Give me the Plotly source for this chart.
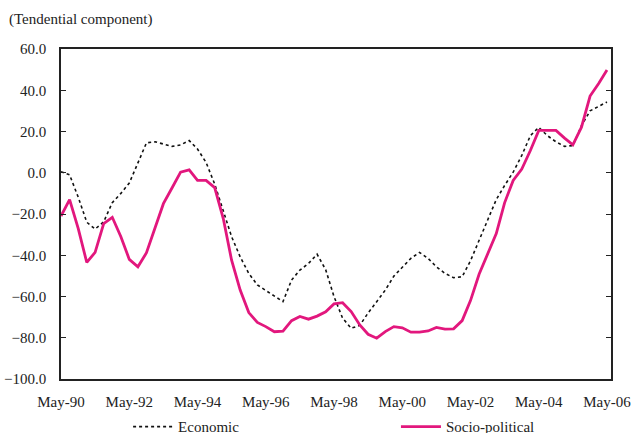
import pandas as pd
import plotly.graph_objects as go

# Quarterly observations, May-1990 .. May-2006
dates = pd.date_range("1990-05-01", periods=65, freq="3MS")

economic = [
    0.5, -1.0, -11.8, -24.0, -27.3, -23.8, -14.5, -10.0, -5.0, 5.0,
    14.5, 15.0, 13.8, 12.8, 13.5, 15.6, 11.5, 5.0, -5.5, -19.0,
    -31.0, -40.8, -48.8, -54.4, -57.2, -60.0, -62.5, -52.0, -47.2, -44.0,
    -39.5, -47.0, -60.0, -70.5, -75.4, -74.0, -68.0, -62.5, -56.9, -50.1,
    -45.6, -41.5, -38.6, -41.5, -45.6, -48.8, -50.9, -50.4, -42.7, -32.7,
    -23.4, -13.0, -6.2, 0.3, 8.4, 18.0, 22.0, 18.0, 15.0, 12.8,
    13.2, 22.8, 30.0, 32.4, 34.3,
]

socio_political = [
    -21.0, -13.0, -27.0, -43.5, -38.6, -24.6, -21.6, -31.0, -42.0, -45.6,
    -38.8, -27.0, -15.0, -7.4, 0.3, 1.4, -3.7, -3.7, -7.2, -22.2,
    -42.4, -56.9, -67.8, -72.6, -74.6, -77.1, -76.8, -71.7, -69.7, -71.0,
    -69.5, -67.4, -63.6, -63.0, -67.3, -73.8, -78.3, -80.2, -77.0, -74.6,
    -75.2, -77.3, -77.3, -76.7, -75.0, -75.8, -75.7, -71.7, -62.0, -49.2,
    -39.5, -29.5, -14.6, -3.7, 1.8, 10.8, 20.5, 20.5, 20.5, 16.8,
    13.5, 22.1, 37.2, 43.3, 49.8,
]

tick_dates = pd.date_range("1990-05-01", "2006-05-01", freq="24MS")
tick_labels = ["May-90", "May-92", "May-94", "May-96", "May-98",
               "May-00", "May-02", "May-04", "May-06"]

FONT = "Times New Roman, Liberation Serif, DejaVu Serif, serif"
TXT = "#222222"
x_range = ["1990-05-01", "2006-06-13"]

fig = go.Figure()
fig.add_trace(go.Scatter(
    x=dates, y=economic, mode="lines", name="Economic", legend="legend",
    line=dict(color="#111111", width=1.6, dash="dot"),
))
fig.add_trace(go.Scatter(
    x=dates, y=socio_political, mode="lines", name="Socio-political",
    legend="legend2",
    line=dict(color="#E2177D", width=2.8),
))

legend_common = dict(
    orientation="h", xanchor="left", y=-0.145, yanchor="middle",
    font=dict(family=FONT, size=15, color=TXT),
    itemwidth=40, bgcolor="rgba(0,0,0,0)",
)

fig.update_layout(
    width=634, height=433,
    margin=dict(l=61, r=23, t=49, b=54, autoexpand=False),
    paper_bgcolor="white", plot_bgcolor="white",
    font=dict(family=FONT, size=15, color=TXT),
    showlegend=True,
    legend=dict(x=0.122, **legend_common),
    legend2=dict(x=0.609, **legend_common),
    xaxis=dict(
        type="date", range=x_range,
        tickmode="array", tickvals=tick_dates, ticktext=tick_labels,
        ticks="outside", ticklen=8, tickcolor="rgba(0,0,0,0)",
        showline=True, linecolor="#222222", linewidth=1.5, mirror=True,
        showgrid=False, zeroline=False,
        tickfont=dict(family=FONT, size=15, color=TXT),
    ),
    xaxis2=dict(
        type="date", range=x_range, overlaying="x", anchor="free", position=0.625,
        tickmode="array", tickvals=tick_dates, ticktext=[""] * len(tick_labels),
        ticks="outside", ticklen=5, tickwidth=1.3, tickcolor="#222222",
        showline=True, linecolor="#222222", linewidth=1.5,
        showgrid=False, zeroline=False, showticklabels=False,
    ),
    xaxis3=dict(
        type="date", range=x_range, overlaying="x", anchor="free", position=0.625,
        tickmode="array", tickvals=tick_dates, ticktext=[""] * len(tick_labels),
        ticks="inside", ticklen=5, tickwidth=1.3, tickcolor="#222222",
        showline=False, showgrid=False, zeroline=False, showticklabels=False,
    ),
    yaxis=dict(
        range=[-100, 60], tickmode="linear", tick0=-100, dtick=20,
        tickformat=".1f",
        ticks="inside", ticklen=5, tickwidth=1.3, tickcolor="#222222",
        showline=True, linecolor="#222222", linewidth=1.5, mirror="ticks",
        showgrid=False, zeroline=False, ticklabelstandoff=10,
        tickfont=dict(family=FONT, size=15, color=TXT),
    ),
    annotations=[dict(
        text="(Tendential component)", xref="paper", yref="paper",
        x=-0.098, y=1.0, xanchor="left", yanchor="bottom", yshift=19,
        showarrow=False, font=dict(family=FONT, size=15, color=TXT),
    )],
)

fig.write_html(
    "out.html",
    config={"displayModeBar": False},
    post_script="document.body.style.margin='0px';",
)
